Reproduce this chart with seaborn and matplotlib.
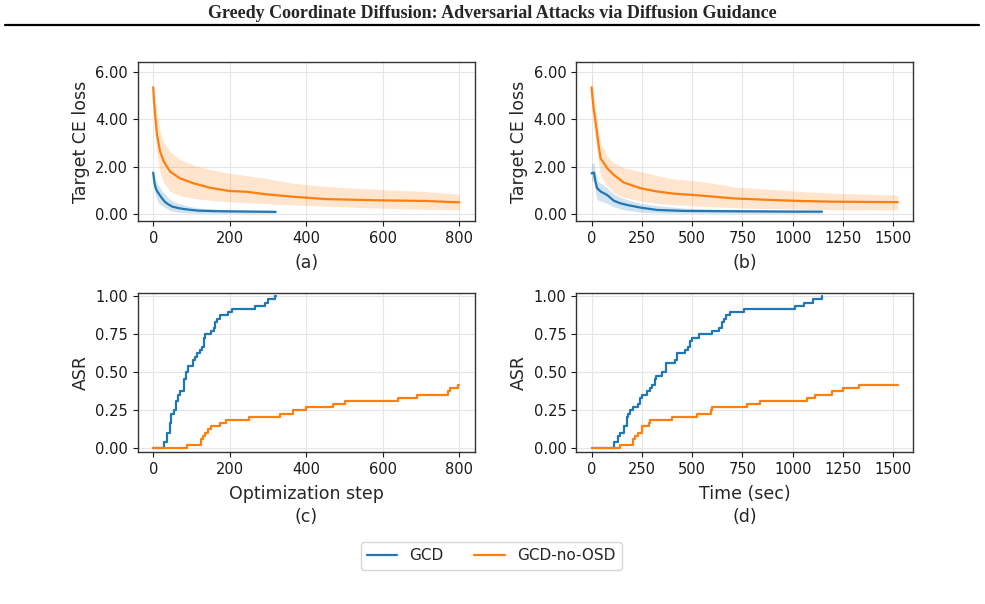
import numpy as np
import pandas as pd
import matplotlib
matplotlib.use("Agg")
import matplotlib.pyplot as plt
import seaborn as sns
from matplotlib.ticker import FormatStrFormatter

# ================= data =================
BLUE = "#1f77b4"
ORANGE = "#ff7f0e"

# (a) target CE loss vs optimization step
gcd_step = [0, 3, 6, 10, 15, 20, 30, 40, 50, 65, 80, 100, 120, 160, 200, 260, 320]
gcd_loss_step = [1.75, 1.35, 1.12, 0.97, 0.85, 0.73, 0.52, 0.40, 0.31, 0.25, 0.21, 0.17, 0.14, 0.12, 0.11, 0.10, 0.09]
gcd_lo_step = [1.70, 1.00, 0.78, 0.60, 0.45, 0.38, 0.28, 0.18, 0.12, 0.08, 0.05, 0.04, 0.03, 0.03, 0.03, 0.03, 0.03]
gcd_hi_step = [1.80, 1.65, 1.45, 1.30, 1.18, 1.05, 0.85, 0.68, 0.55, 0.45, 0.38, 0.30, 0.25, 0.21, 0.18, 0.15, 0.13]

nos_step = [0, 2, 5, 10, 18, 27, 44, 70, 105, 148, 200, 244, 296, 365, 452, 582, 713, 800]
nos_loss_step = [5.36, 4.80, 4.19, 3.34, 2.64, 2.24, 1.79, 1.51, 1.30, 1.11, 0.97, 0.94, 0.83, 0.73, 0.63, 0.58, 0.55, 0.49]
nos_hi_step = [5.42, 5.20, 4.90, 4.30, 3.50, 3.05, 2.64, 2.30, 2.07, 1.88, 1.72, 1.62, 1.50, 1.30, 1.16, 1.04, 0.95, 0.83]
nos_lo_step = [5.30, 4.40, 3.50, 2.50, 1.75, 1.35, 0.95, 0.78, 0.66, 0.58, 0.52, 0.48, 0.44, 0.38, 0.33, 0.25, 0.20, 0.17]

# (b) target CE loss vs time
gcd_time = [0, 12, 20, 28, 45, 78, 111, 140, 177, 243, 326, 458, 600, 800, 1000, 1145]
gcd_loss_time = [1.72, 1.75, 1.35, 1.09, 0.95, 0.80, 0.56, 0.46, 0.38, 0.27, 0.17, 0.13, 0.12, 0.11, 0.10, 0.10]
gcd_hi_time = [2.15, 2.15, 1.75, 1.45, 1.30, 1.10, 0.85, 0.72, 0.60, 0.45, 0.35, 0.25, 0.21, 0.18, 0.15, 0.14]
gcd_lo_time = [1.40, 1.40, 0.90, 0.60, 0.55, 0.45, 0.30, 0.22, 0.15, 0.08, 0.04, 0.03, 0.03, 0.03, 0.03, 0.03]

nos_time = [0, 5, 10, 20, 36, 45, 78, 111, 160, 243, 326, 408, 540, 706, 871, 1037, 1202, 1522]
nos_loss_time = [5.36, 4.90, 4.50, 3.90, 2.85, 2.36, 1.93, 1.65, 1.33, 1.09, 0.95, 0.86, 0.78, 0.66, 0.60, 0.55, 0.52, 0.50]
nos_hi_time = [6.00, 5.60, 5.20, 4.50, 3.50, 3.00, 2.45, 2.15, 1.95, 1.80, 1.62, 1.48, 1.38, 1.15, 1.05, 0.95, 0.88, 0.80]
nos_lo_time = [4.70, 4.20, 3.80, 3.20, 2.10, 1.60, 1.20, 0.90, 0.70, 0.55, 0.45, 0.40, 0.32, 0.27, 0.23, 0.20, 0.18, 0.17]

# (c) ASR vs optimization step
gcd_asr_step_x = [0, 28, 36, 43, 47, 53, 60, 66, 69, 81, 86, 92, 103, 109, 115, 121, 127, 133, 135, 150,
                  159, 162, 166, 174, 196, 207, 266, 292, 300, 318, 320]
gcd_asr_step_y = [0, 0.042, 0.104, 0.167, 0.229, 0.25, 0.312, 0.354, 0.375, 0.458, 0.5, 0.542, 0.583, 0.604,
                  0.625, 0.646, 0.667, 0.729, 0.75, 0.771, 0.792, 0.833, 0.854, 0.875, 0.896, 0.917, 0.938,
                  0.958, 0.979, 1.0, 1.0]
nos_asr_step_x = [0, 88, 125, 130, 136, 142, 150, 175, 190, 250, 330, 365, 400, 470, 500, 640, 690, 770, 775, 795, 800]
nos_asr_step_y = [0, 0.021, 0.062, 0.083, 0.104, 0.125, 0.146, 0.167, 0.188, 0.208, 0.229, 0.25, 0.271, 0.292,
                  0.312, 0.333, 0.354, 0.375, 0.396, 0.417, 0.417]

# (d) ASR vs time
gcd_asr_time_x = [0, 111, 131, 139, 160, 174, 180, 193, 207, 230, 243, 251, 276, 289, 301, 313, 322, 351, 370, 417,
                  425, 466, 478, 488, 499, 532, 599, 632, 648, 660, 670, 690, 759, 1012, 1057, 1103, 1145]
gcd_asr_time_y = [0, 0.042, 0.083, 0.104, 0.146, 0.208, 0.229, 0.25, 0.271, 0.292, 0.333, 0.354, 0.375, 0.396,
                  0.417, 0.458, 0.479, 0.5, 0.562, 0.583, 0.625, 0.646, 0.667, 0.708, 0.729, 0.75, 0.771, 0.792,
                  0.833, 0.854, 0.875, 0.896, 0.917, 0.938, 0.958, 0.979, 1.0]
nos_asr_time_x = [0, 141, 207, 218, 230, 251, 284, 293, 400, 524, 594, 600, 772, 838, 1070, 1111, 1194, 1252, 1331, 1522]
nos_asr_time_y = [0, 0.021, 0.062, 0.083, 0.104, 0.146, 0.167, 0.188, 0.208, 0.229, 0.25, 0.271, 0.292, 0.312,
                  0.333, 0.354, 0.375, 0.396, 0.417, 0.417]

LABELS = ["GCD", "GCD-no-OSD"]

# ================= style =================
sns.set_style("whitegrid", {
    "axes.edgecolor": "0.2",
    "grid.color": "0.9",
    "xtick.bottom": True,
    "ytick.left": True,
    "xtick.color": "0.1",
    "ytick.color": "0.1",
})
plt.rcParams["font.family"] = ["DejaVu Sans"]
plt.rcParams["xtick.labelsize"] = 10.5
plt.rcParams["ytick.labelsize"] = 10.5
plt.rcParams["axes.labelsize"] = 12.5
plt.rcParams["axes.linewidth"] = 1.0
plt.rcParams["grid.linewidth"] = 0.8

fig = plt.figure(figsize=(9.85, 6.04), dpi=100)

W, H = 0.342, 0.263
ax_a = fig.add_axes([0.140, 0.634, W, H])
ax_b = fig.add_axes([0.585, 0.634, W, H])
ax_c = fig.add_axes([0.140, 0.252, W, H])
ax_d = fig.add_axes([0.585, 0.252, W, H])


def loss_panel(ax, x1, m1, lo1, hi1, x2, m2, lo2, hi2, xlabel):
    ax.fill_between(x1, lo1, hi1, color=BLUE, alpha=0.2, lw=0)
    ax.fill_between(x2, lo2, hi2, color=ORANGE, alpha=0.2, lw=0)
    sns.lineplot(x=x1, y=m1, color=BLUE, lw=1.6, ax=ax, label=LABELS[0])
    sns.lineplot(x=x2, y=m2, color=ORANGE, lw=1.6, ax=ax, label=LABELS[1])
    ax.set_ylim(-0.3, 6.42)
    ax.set_yticks([0, 2, 4, 6])
    ax.yaxis.set_major_formatter(FormatStrFormatter("%.2f"))
    ax.set_ylabel("Target CE loss")
    ax.set_xlabel(xlabel, labelpad=6)


def asr_panel(ax, x1, y1, x2, y2, xlabel):
    sns.lineplot(x=x1, y=y1, color=BLUE, lw=1.6, drawstyle="steps-post", ax=ax, label=LABELS[0])
    sns.lineplot(x=x2, y=y2, color=ORANGE, lw=1.6, drawstyle="steps-post", ax=ax, label=LABELS[1])
    ax.set_ylim(-0.022, 1.022)
    ax.set_yticks([0, 0.25, 0.5, 0.75, 1.0])
    ax.yaxis.set_major_formatter(FormatStrFormatter("%.2f"))
    ax.set_ylabel("ASR")
    ax.set_xlabel(xlabel, labelpad=6, linespacing=1.35)


loss_panel(ax_a, gcd_step, gcd_loss_step, gcd_lo_step, gcd_hi_step,
           nos_step, nos_loss_step, nos_lo_step, nos_hi_step, "(a)")
loss_panel(ax_b, gcd_time, gcd_loss_time, gcd_lo_time, gcd_hi_time,
           nos_time, nos_loss_time, nos_lo_time, nos_hi_time, "(b)")
asr_panel(ax_c, gcd_asr_step_x, gcd_asr_step_y, nos_asr_step_x, nos_asr_step_y, "Optimization step\n(c)")
asr_panel(ax_d, gcd_asr_time_x, gcd_asr_time_y, nos_asr_time_x, nos_asr_time_y, "Time (sec)\n(d)")

ax_a.set_xticks([0, 200, 400, 600, 800])
ax_c.set_xticks([0, 200, 400, 600, 800])
ax_b.set_xticks([0, 250, 500, 750, 1000, 1250, 1500])
ax_d.set_xticks([0, 250, 500, 750, 1000, 1250, 1500])

handles, labels = ax_a.get_legend_handles_labels()
for ax in (ax_a, ax_b, ax_c, ax_d):
    ax.get_legend().remove()
    ax.tick_params(length=3.5, width=0.8)

fig.legend(handles, labels, loc="center", bbox_to_anchor=(0.4985, 0.0795), ncol=2,
           fontsize=11, frameon=True, edgecolor="0.8", fancybox=True, columnspacing=2.0)

# page header of the paper
fig.text(0.4995, 0.978, "Greedy Coordinate Diffusion: Adversarial Attacks via Diffusion Guidance",
         ha="center", va="center", fontsize=13, fontweight="bold", family=["Liberation Serif"])
fig.add_artist(plt.Line2D([0.005, 0.994], [0.958, 0.958], color="black", lw=1.6,
                          transform=fig.transFigure))

fig.savefig("out.png", dpi=100)
